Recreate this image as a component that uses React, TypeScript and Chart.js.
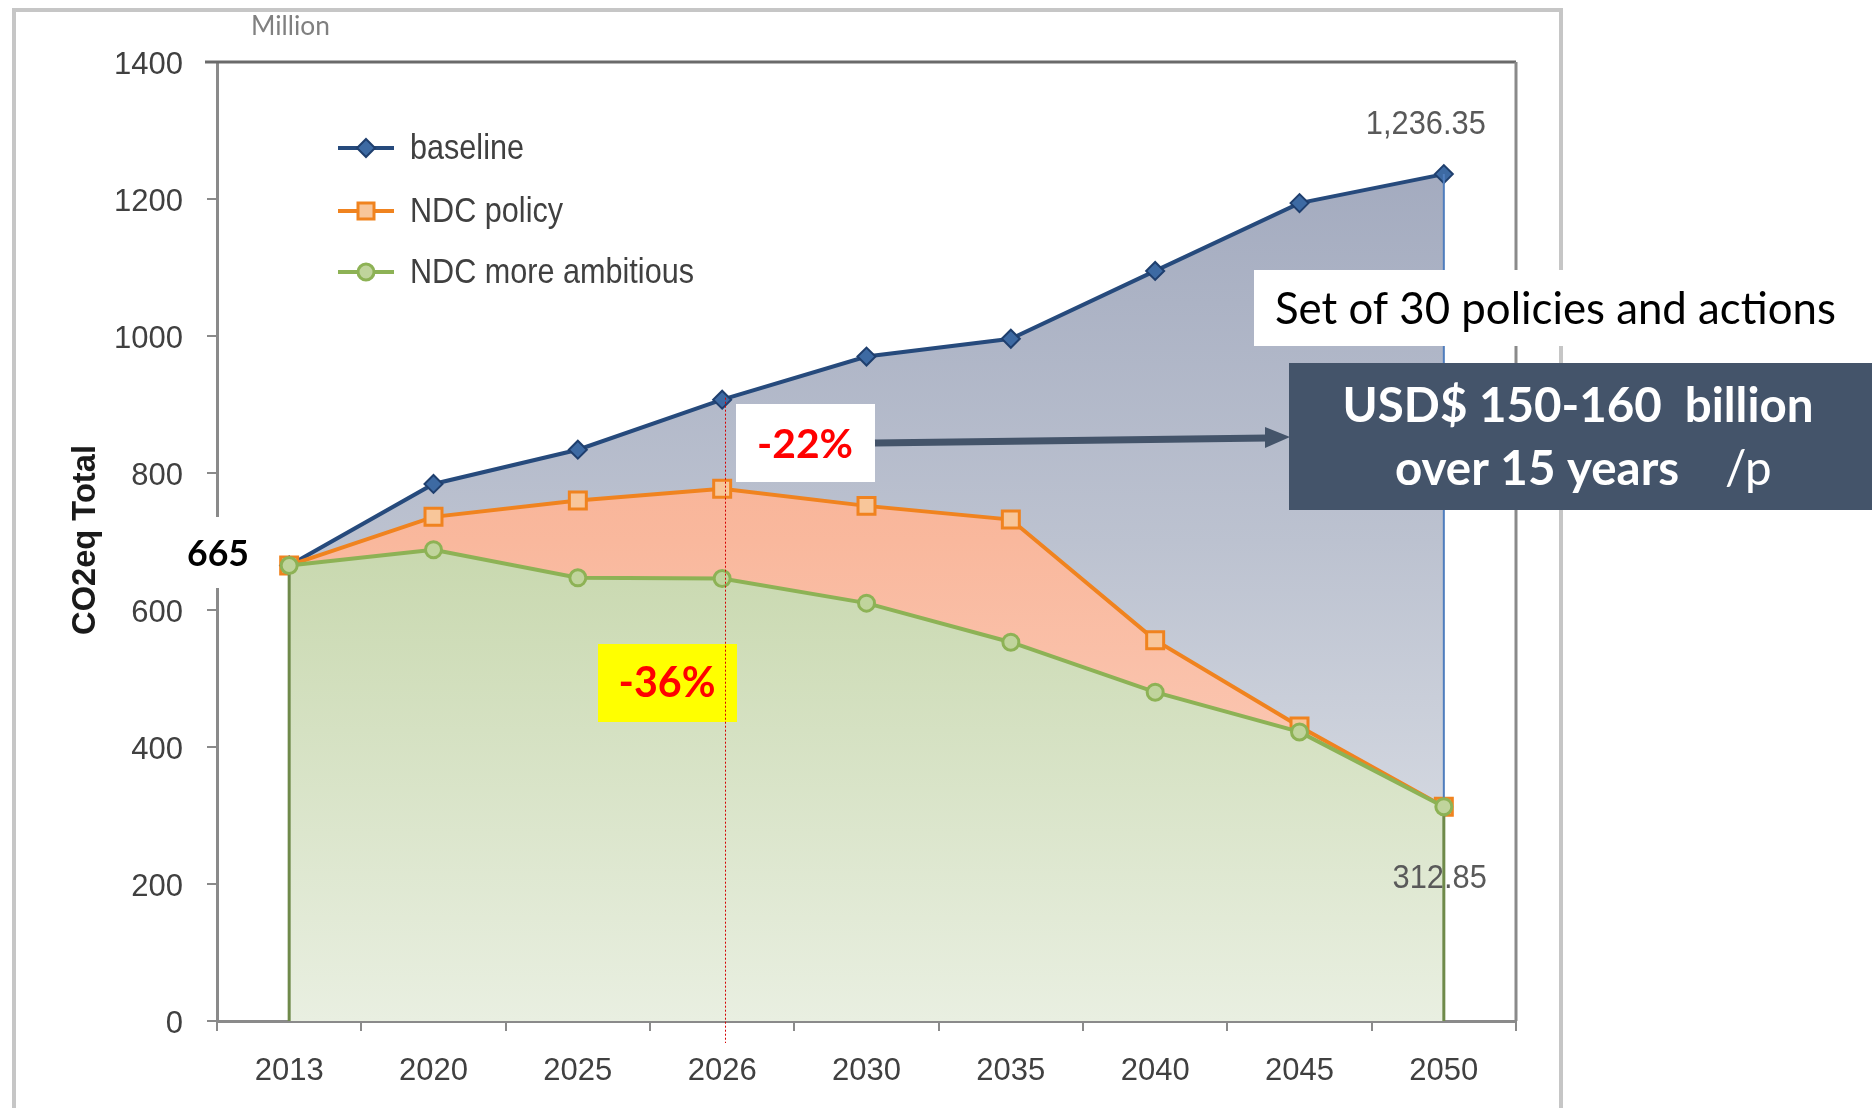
import React, { useEffect, useRef } from "react";
import { Chart, registerables } from "chart.js";

Chart.register(...registerables);

// ---------- data ----------
const categories = ["2013", "2020", "2025", "2026", "2030", "2035", "2040", "2045", "2050"];
const baseline = [665, 784, 834, 907, 970, 996, 1095, 1194, 1236.35];
const ndcPolicy = [665, 736, 760, 777, 752, 732, 556, 430, 312.85];
const ndcAmbitious = [665, 688, 647, 646, 610, 553, 480, 422, 312.85];
const seriesNames = ["baseline", "NDC policy", "NDC more ambitious"];
const yMin = 0;
const yMax = 1400;
const yStep = 200;

const unitText = "Million";
const yAxisTitle = "CO2eq Total";
const highlightCategory = "2026";
const policyCut = "-22%";
const ambitiousCut = "-36%";
const policyNote = "Set of 30 policies and actions";
const costLine1 = "USD$ 150-160  billion";
const costLine2 = "over 15 years";
const costSuffix = "/p";

// ---------- styles ----------
const SANS = "'Liberation Sans', Arial, sans-serif";
const HUMAN = "Lato, 'Open Sans', sans-serif";
const seriesColors = ["#264a7c", "#f0831f", "#8db255"];

function grad(stops: [number, string][]) {
  return (c: any) => {
    const chart = c.chart;
    const ca = chart.chartArea;
    if (!ca) return stops[0][1];
    const g = chart.ctx.createLinearGradient(0, ca.top, 0, ca.bottom);
    stops.forEach(([o, col]) => g.addColorStop(o, col));
    return g;
  };
}

function fitFont(ctx: CanvasRenderingContext2D, text: string, weight: string, family: string, target: number) {
  ctx.font = `${weight} 100px ${family}`;
  const w = ctx.measureText(text).width;
  const size = (100 * target) / w;
  ctx.font = `${weight} ${size.toFixed(2)}px ${family}`;
  return size;
}

// horizontally condensed text (mimics a narrow face)
function condensed(
  ctx: CanvasRenderingContext2D,
  text: string,
  x: number,
  y: number,
  align: CanvasTextAlign,
  size: number,
  sx: number,
  color: string
) {
  ctx.save();
  ctx.translate(x, y);
  ctx.scale(sx, 1);
  ctx.font = `400 ${size}px ${SANS}`;
  ctx.textAlign = align;
  ctx.textBaseline = "middle";
  ctx.fillStyle = color;
  ctx.fillText(text, 0, 0);
  ctx.restore();
}

function squeezeFor(ctx: CanvasRenderingContext2D, text: string, size: number, target: number) {
  ctx.font = `400 ${size}px ${SANS}`;
  return target / ctx.measureText(text).width;
}

function line(ctx: CanvasRenderingContext2D, x1: number, y1: number, x2: number, y2: number) {
  ctx.beginPath();
  ctx.moveTo(x1, y1);
  ctx.lineTo(x2, y2);
  ctx.stroke();
}

const framePlugin = {
  id: "frame",
  beforeDraw(chart: any) {
    const ctx = chart.ctx as CanvasRenderingContext2D;
    ctx.save();
    ctx.fillStyle = "#ffffff";
    ctx.fillRect(0, 0, chart.width, chart.height);
    ctx.strokeStyle = "#c6c6c6";
    ctx.lineWidth = 4;
    ctx.strokeRect(14, 10, 1547, 1300);
    ctx.restore();
  },
  beforeDatasetsDraw(chart: any) {
    const ctx = chart.ctx as CanvasRenderingContext2D;
    const ca = chart.chartArea;
    ctx.save();
    ctx.strokeStyle = "#6a6a6a";
    ctx.lineWidth = 3;
    line(ctx, ca.left - 12, ca.top, ca.right, ca.top);
    ctx.strokeStyle = "#8a8a8a";
    line(ctx, ca.right, ca.top, ca.right, ca.bottom);
    ctx.restore();
  },
};

const edgePlugin = {
  id: "edges",
  beforeDatasetDraw(chart: any, args: any) {
    if (args.index !== 2) return;
    const ctx = chart.ctx as CanvasRenderingContext2D;
    const xs = chart.scales.x;
    const ys = chart.scales.y;
    const n = categories.length - 1;
    const x0 = xs.getPixelForValue(0);
    const xn = xs.getPixelForValue(n);
    const zero = ys.getPixelForValue(0);
    ctx.save();
    ctx.strokeStyle = "#6f8a4a";
    ctx.lineWidth = 3;
    line(ctx, x0, ys.getPixelForValue(ndcAmbitious[0]), x0, zero);
    line(ctx, xn, ys.getPixelForValue(ndcAmbitious[n]), xn, zero);
    ctx.strokeStyle = "#4f7dbd";
    ctx.lineWidth = 2;
    line(ctx, xn, ys.getPixelForValue(baseline[n]), xn, ys.getPixelForValue(ndcAmbitious[n]));
    ctx.restore();
  },
};

function drawMarker(ctx: CanvasRenderingContext2D, i: number, x: number, y: number) {
  ctx.save();
  ctx.lineWidth = 2;
  if (i === 0) {
    ctx.fillStyle = "#3d6aa3";
    ctx.strokeStyle = "#1f3f6e";
    ctx.beginPath();
    ctx.moveTo(x, y - 9);
    ctx.lineTo(x + 9, y);
    ctx.lineTo(x, y + 9);
    ctx.lineTo(x - 9, y);
    ctx.closePath();
    ctx.fill();
    ctx.stroke();
  } else if (i === 1) {
    ctx.fillStyle = "#f8c69a";
    ctx.strokeStyle = "#f0831f";
    ctx.lineWidth = 3;
    ctx.fillRect(x - 8, y - 8, 16, 16);
    ctx.strokeRect(x - 8, y - 8, 16, 16);
  } else {
    ctx.fillStyle = "#c0d49c";
    ctx.strokeStyle = "#8db255";
    ctx.lineWidth = 3;
    ctx.beginPath();
    ctx.arc(x, y, 8, 0, Math.PI * 2);
    ctx.fill();
    ctx.stroke();
  }
  ctx.restore();
}

const overlayPlugin = {
  id: "overlay",
  afterDraw(chart: any) {
    const ctx = chart.ctx as CanvasRenderingContext2D;
    const xs = chart.scales.x;
    const ys = chart.scales.y;
    const n = categories.length - 1;
    ctx.save();

    // unit label
    ctx.fillStyle = "#808080";
    ctx.textAlign = "left";
    ctx.textBaseline = "middle";
    fitFont(ctx, unitText, "400", HUMAN, 79);
    ctx.fillText(unitText, 251, 26);

    // y axis title
    ctx.save();
    ctx.translate(86, 540);
    ctx.rotate(-Math.PI / 2);
    ctx.fillStyle = "#1a1a1a";
    ctx.textAlign = "center";
    fitFont(ctx, yAxisTitle, "700", SANS, 190);
    ctx.fillText(yAxisTitle, 0, 0);
    ctx.restore();

    // legend
    const rows = [148, 211, 272];
    const legendSize = 35;
    const legendSx = squeezeFor(ctx, seriesNames[2], legendSize, 284);
    seriesNames.forEach((name, i) => {
      const yy = rows[i];
      ctx.strokeStyle = seriesColors[i];
      ctx.lineWidth = 4;
      line(ctx, 338, yy, 394, yy);
      drawMarker(ctx, i, 366, yy);
      condensed(ctx, name, 410, yy + 1, "left", legendSize, legendSx, "#404040");
    });

    // start value label with white box
    ctx.fillStyle = "#ffffff";
    ctx.fillRect(180, 517, 84, 71);
    ctx.fillStyle = "#000000";
    ctx.textAlign = "center";
    ctx.textBaseline = "middle";
    const startText = String(baseline[0]);
    fitFont(ctx, startText, "700", HUMAN, 62);
    ctx.fillText(startText, 218, 554);

    // end value labels
    const xn = xs.getPixelForValue(n);
    const fmt = (v: number) => v.toLocaleString("en-US", { minimumFractionDigits: 2, maximumFractionDigits: 2 });
    const endTop = fmt(baseline[n]);
    const endBottom = fmt(ndcAmbitious[n]);
    const dlSize = 34;
    const dlSx = squeezeFor(ctx, endTop, dlSize, 120);
    condensed(ctx, endTop, xn + 42, ys.getPixelForValue(baseline[n]) - 49, "right", dlSize, dlSx, "#595959");
    condensed(ctx, endBottom, xn + 43, ys.getPixelForValue(ndcAmbitious[n]) + 72, "right", dlSize, dlSx, "#595959");

    // -36% yellow box
    ctx.fillStyle = "#ffff00";
    ctx.fillRect(598, 644, 139, 78);
    ctx.fillStyle = "#ff0000";
    ctx.textAlign = "center";
    ctx.textBaseline = "middle";
    fitFont(ctx, ambitiousCut, "700", HUMAN, 97);
    ctx.fillText(ambitiousCut, 667, 684);

    // red dotted line at highlight category
    const hi = categories.indexOf(highlightCategory);
    const hx = Math.round(xs.getPixelForValue(hi) + 3) + 0.5;
    ctx.strokeStyle = "#d40000";
    ctx.lineWidth = 1;
    ctx.setLineDash([2, 2]);
    line(ctx, hx, ys.getPixelForValue(baseline[hi]) - 2, hx, chart.chartArea.bottom + 22);
    ctx.setLineDash([]);

    // -22% white box
    ctx.fillStyle = "#ffffff";
    ctx.fillRect(736, 404, 139, 78);
    ctx.fillStyle = "#ff0000";
    fitFont(ctx, policyCut, "700", HUMAN, 96);
    ctx.fillText(policyCut, 805, 445);

    // arrow
    ctx.strokeStyle = "#44546a";
    ctx.fillStyle = "#44546a";
    ctx.lineWidth = 7;
    line(ctx, 875, 443, 1268, 438);
    ctx.beginPath();
    ctx.moveTo(1290, 437);
    ctx.lineTo(1265, 427);
    ctx.lineTo(1265, 448);
    ctx.closePath();
    ctx.fill();

    // policy note box
    ctx.fillStyle = "#ffffff";
    ctx.fillRect(1254, 270, 618, 76);
    ctx.fillStyle = "#000000";
    ctx.textAlign = "left";
    fitFont(ctx, policyNote, "400", HUMAN, 561);
    ctx.fillText(policyNote, 1275, 310);

    // cost box
    ctx.fillStyle = "#44546a";
    ctx.fillRect(1289, 363, 583, 147);
    ctx.fillStyle = "#ffffff";
    ctx.textAlign = "center";
    const fs = fitFont(ctx, costLine1, "700", HUMAN, 471);
    ctx.fillText(costLine1, 1578, 407);
    ctx.textAlign = "left";
    ctx.font = `700 ${fs.toFixed(2)}px ${HUMAN}`;
    ctx.fillText(costLine2, 1395, 470);
    ctx.font = `400 ${fs.toFixed(2)}px ${HUMAN}`;
    ctx.fillText(costSuffix, 1725, 470);

    ctx.restore();
  },
};

export default function App() {
  const ref = useRef<HTMLCanvasElement | null>(null);

  useEffect(() => {
    if (!ref.current) return;
    const tickFont = { family: SANS, size: 31 };
    const chart = new Chart(ref.current, {
      type: "line",
      data: {
        labels: categories,
        datasets: [
          {
            label: seriesNames[0],
            data: baseline,
            order: 2,
            borderColor: seriesColors[0],
            borderWidth: 4,
            backgroundColor: grad([
              [0, "#9ca4ba"],
              [0.5, "#bcc2d0"],
              [1, "#e4e7ec"],
            ]),
            fill: "origin",
            tension: 0,
            pointStyle: "rectRot",
            pointRadius: 9,
            pointBackgroundColor: "#3d6aa3",
            pointBorderColor: "#1f3f6e",
            pointBorderWidth: 2,
          },
          {
            label: seriesNames[1],
            data: ndcPolicy,
            order: 1,
            borderColor: seriesColors[1],
            borderWidth: 4,
            backgroundColor: grad([
              [0, "#f6a684"],
              [0.5, "#f9b89d"],
              [1, "#fdd8ca"],
            ]),
            fill: "origin",
            tension: 0,
            pointStyle: "rect",
            pointRadius: 12,
            pointBackgroundColor: "#f8c69a",
            pointBorderColor: "#f0831f",
            pointBorderWidth: 3,
          },
          {
            label: seriesNames[2],
            data: ndcAmbitious,
            order: 0,
            borderColor: seriesColors[2],
            borderWidth: 4,
            backgroundColor: grad([
              [0, "#b5c997"],
              [0.5, "#c8d8ae"],
              [1, "#e9efe1"],
            ]),
            fill: "origin",
            tension: 0,
            pointStyle: "circle",
            pointRadius: 8,
            pointBackgroundColor: "#c0d49c",
            pointBorderColor: "#8db255",
            pointBorderWidth: 3,
          },
        ],
      },
      options: {
        responsive: false,
        animation: false,
        devicePixelRatio: 1,
        layout: { padding: { top: 62, right: 356, bottom: 0, left: 0 } },
        plugins: {
          legend: { display: false },
          tooltip: { enabled: false },
          title: { display: false },
        },
        scales: {
          x: {
            type: "category",
            offset: true,
            grid: {
              display: true,
              drawOnChartArea: false,
              drawTicks: true,
              tickLength: 10,
              color: "#8a8a8a",
              lineWidth: 2,
              offset: true,
            },
            border: { display: true, color: "#8a8a8a", width: 3 },
            ticks: { font: tickFont, color: "#404040", padding: 22, maxRotation: 0, autoSkip: false },
            afterFit: (s: any) => {
              s.height = 87;
            },
          },
          y: {
            min: yMin,
            max: yMax,
            grid: {
              display: true,
              drawOnChartArea: false,
              drawTicks: true,
              tickLength: 10,
              color: "#8a8a8a",
              lineWidth: 2,
            },
            border: { display: true, color: "#8a8a8a", width: 3 },
            ticks: {
              stepSize: yStep,
              font: tickFont,
              color: "#404040",
              padding: 24,
              labelOffset: 3,
              callback: (v: any) => String(v),
            },
            afterFit: (s: any) => {
              s.width = 217;
            },
          },
        },
      } as any,
      plugins: [framePlugin, edgePlugin, overlayPlugin],
    });
    return () => chart.destroy();
  }, []);

  return (
    <div style={{ position: "absolute", left: 0, top: 0, width: 1872, height: 1108, background: "#fff" }}>
      <canvas ref={ref} width={1872} height={1108} style={{ display: "block", width: 1872, height: 1108 }} />
    </div>
  );
}
